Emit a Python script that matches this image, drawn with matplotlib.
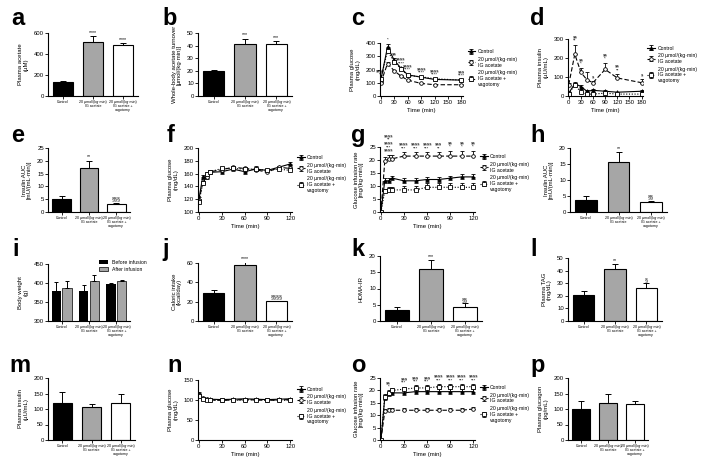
import numpy as np
import matplotlib.pyplot as plt

plt.rcParams['font.family'] = ['Liberation Sans', 'DejaVu Sans']
plt.rcParams['axes.linewidth'] = 0.8

W, H = 710, 471

groups = ['Control', '20 µmol/(kg·min)\nIG acetate', '20 µmol/(kg·min)\nIG acetate +\nvagotomy']
series_names = ['Control', '20 µmol/(kg·min)\nIG acetate', '20 µmol/(kg·min)\nIG acetate +\nvagotomy']

# bar panels: means, errors, significance labels
acetate_mean = [135, 510, 490]
acetate_err = [8, 60, 15]
acetate_sig = ['', '****', '****']

turnover_mean = [19.5, 41.5, 41.5]
turnover_err = [1.5, 4, 2]
turnover_sig = ['', '***', '***']

auc1_mean = [5.2, 17.0, 3.2]
auc1_err = [1.0, 3.0, 0.3]
auc1_sig = ['', '**', '§§§']

auc2_mean = [3.8, 15.5, 3.0]
auc2_err = [1.2, 3.3, 0.5]
auc2_sig = ['', '**', '§§']

bw_before = [380, 380, 398]
bw_before_err = [22, 15, 2]
bw_after = [386, 405, 405]
bw_after_err = [20, 15, 2]

kcal_mean = [29, 58, 21]
kcal_err = [3.5, 3, 0]
kcal_sig = ['', '****', '§§§§']

homa_mean = [3.5, 16.0, 4.2]
homa_err = [0.8, 2.8, 1.2]
homa_sig = ['', '***', '§§']

tag_mean = [20.5, 41.5, 26.0]
tag_err = [3, 3.5, 4]
tag_sig = ['', '**', '§']

ins2_mean = [120, 105, 118]
ins2_err = [35, 10, 30]

glucagon_mean = [100, 120, 115]
glucagon_err = [25, 30, 10]

# time course panels
t_ogtt = [0, 15, 30, 45, 60, 90, 120, 180]
glu_ctrl = [120, 370, 270, 210, 160, 142, 125, 120]
glu_ctrl_err = [10, 25, 15, 10, 8, 8, 6, 6]
glu_ace = [100, 245, 190, 150, 120, 95, 85, 85]
glu_ace_err = [8, 15, 10, 8, 6, 5, 4, 4]
glu_vag = [130, 340, 260, 205, 155, 145, 130, 120]
glu_vag_err = [10, 20, 15, 10, 8, 8, 6, 6]
glu_sig = ['§§§§\n**', '*', '§§', '§§§§\n****', '§§§§\n****', '§§§§\n****', '§§§§\n****', '§§§\n****']

ins_ctrl = [15, 65, 50, 25, 30, 25, 20, 25]
ins_ctrl_err = [5, 8, 6, 4, 5, 4, 3, 4]
ins_ace = [60, 220, 125, 85, 70, 140, 95, 70]
ins_ace_err = [10, 50, 25, 40, 10, 35, 20, 20]
ins_vag = [10, 60, 20, 10, 10, 15, 10, 10]
ins_vag_err = [3, 8, 15, 3, 3, 4, 3, 3]
ins_sig = ['', '§§\n**', '§§\n*', '', '§', '§§\n*', '§§\n**', '§']

t_clamp = [0, 5, 10, 15, 30, 45, 60, 75, 90, 105, 120]
cg_ctrl = [120, 155, 155, 162, 163, 167, 163, 167, 165, 170, 175]
cg_ctrl_err = [3, 3, 3, 2, 2, 2, 2, 5, 2, 2, 3]
cg_ace = [118, 145, 155, 163, 166, 170, 168, 166, 162, 170, 168]
cg_ace_err = [3, 3, 3, 2, 2, 2, 2, 2, 2, 2, 3]
cg_vag = [115, 145, 160, 163, 168, 168, 167, 167, 165, 167, 165]
cg_vag_err = [3, 3, 3, 2, 2, 2, 2, 2, 2, 2, 8]

gir_ctrl = [0, 12, 12, 13, 12, 12, 12.5, 12.5, 13, 13.5, 13.5]
gir_ctrl_err = [0, 1, 1, 1, 1, 1, 1, 1, 1, 1, 1]
gir_ace = [0, 19.5, 20.5, 20.5, 21.5, 21.5, 21.5, 21.5, 21.5, 21.5, 21.5]
gir_ace_err = [0, 1.5, 1.5, 1.5, 1.5, 1.5, 1.5, 1.5, 2, 2, 2]
gir_vag = [0, 8, 8.5, 8.5, 8.5, 8.5, 9.5, 9.5, 9.5, 9.5, 9.5]
gir_vag_err = [0, 1, 1, 1, 1.5, 1.5, 1.5, 1.5, 1.5, 1.5, 1.5]
gir_sig = ['', '', '§§§§\n**\n§§§§\n***\n§§§§', '', '§§§§\n***', '§§§§\n***', '§§§§\n***',
           '§§§\n**', '§§\n*', '§§\n*', '§§\n*']

cg2_ctrl = [115, 105, 103, 102, 101, 102, 103, 102, 101, 102, 103]
cg2_ctrl_err = [5, 3, 3, 3, 3, 3, 3, 3, 3, 3, 3]
cg2_ace = [112, 104, 102, 100, 99, 100, 101, 100, 99, 100, 101]
cg2_ace_err = [5, 3, 3, 3, 3, 3, 3, 3, 3, 3, 3]
cg2_vag = [110, 103, 101, 99, 100, 99, 100, 101, 100, 99, 100]
cg2_vag_err = [5, 3, 3, 3, 3, 3, 3, 3, 3, 3, 3]

gir2_ctrl = [0, 17, 18.5, 19, 19, 19.5, 19.5, 19.5, 19.5, 19.5, 19.5]
gir2_ctrl_err = [0, 1, 1, 1, 1, 1, 1, 1, 1, 1, 1]
gir2_ace = [0, 11.5, 12, 12, 12, 12, 12, 12, 12, 12, 12.5]
gir2_ace_err = [0, 0.8, 0.8, 0.8, 0.8, 0.8, 0.8, 0.8, 0.8, 0.8, 0.8]
gir2_vag = [0, 17.5, 19, 20, 20.5, 21, 21, 21.5, 21.5, 21.5, 21.5]
gir2_vag_err = [0, 1, 1, 1, 1, 1, 1, 1, 1, 1, 1]
gir2_sig = ['', '', '§§\n*', '', '§§§\n***', '§§§\n***', '§§§\n***', '§§§§\n***', '§§§§\n***',
            '§§§§\n***', '§§§§\n***']

bar_colors = ['black', '#a6a6a6', 'white']
FS = 4.3
CAT_FS = 2.6
LEG_FS = 3.7
SIG_FS = 3.2


def make_ax(fig, x0, x1, ytop, ybot):
    ax = fig.add_axes([x0 / W, 1 - ybot / H, (x1 - x0) / W, (ybot - ytop) / H])
    ax.spines['top'].set_visible(False)
    ax.spines['right'].set_visible(False)
    ax.tick_params(labelsize=FS, length=2, width=0.6, pad=1)
    return ax


def letter(fig, x, y, s):
    # y is the baseline in pixels from top
    fig.text(x / W, 1 - y / H, s, fontsize=17, fontweight='bold', va='baseline', ha='left')


def bar_panel(fig, box, means, errs, ylabel, ylim, yticks, sig=None):
    ax = make_ax(fig, *box)
    xs = np.arange(3)
    ax.bar(xs, means, 0.68, color=bar_colors, edgecolor='black', linewidth=0.8,
           yerr=[np.zeros(3), errs], capsize=2,
           error_kw=dict(elinewidth=0.7, capthick=0.7))
    ax.set_xlim(-0.5, 2.5)
    ax.set_ylim(*ylim)
    ax.set_yticks(yticks)
    ax.set_xticks(xs)
    ax.set_xticklabels(groups, fontsize=CAT_FS, linespacing=1.0)
    ax.set_ylabel(ylabel, fontsize=FS, linespacing=1.0)
    if sig:
        span = ylim[1] - ylim[0]
        for x, m, e, s in zip(xs, means, errs, sig):
            if s:
                ax.text(x, m + e + span * 0.02, s, ha='center', va='bottom', fontsize=FS - 0.5)
    return ax


def line_panel(fig, box, t, data, ylabel, ylim, yticks, xticks, sig=None, sig_ref=None):
    ax = make_ax(fig, *box)
    styles = [dict(ls='-', marker='^', mfc='black'),
              dict(ls=(0, (4, 2)), marker='o', mfc='white'),
              dict(ls=(0, (1, 1.5)), marker='s', mfc='white')]
    for (y, e), st, name in zip(data, styles, series_names):
        ax.errorbar(t, y, yerr=[np.zeros(len(e)), e], ls=st['ls'], marker=st['marker'],
                    mfc=st['mfc'], mec='black', color='black', ms=2.6, lw=0.8,
                    mew=0.6, capsize=1.5, elinewidth=0.6, capthick=0.6, label=name)
    ax.set_ylim(*ylim)
    ax.set_yticks(yticks)
    ax.set_xticks(xticks)
    ax.set_xlim(xticks[0] - (xticks[-1] - xticks[0]) * 0.01, xticks[-1] + (xticks[-1] - xticks[0]) * 0.02)
    ax.set_ylabel(ylabel, fontsize=FS, linespacing=1.0)
    ax.set_xlabel('Time (min)', fontsize=FS, labelpad=2)
    ax.legend(loc='upper left', bbox_to_anchor=(1.03, 0.92), fontsize=LEG_FS, frameon=False,
              handlelength=1.5, labelspacing=0.5, borderaxespad=0, handletextpad=0.5)
    if sig:
        y, e = sig_ref
        span = ylim[1] - ylim[0]
        for x, v, ee, s in zip(t, y, e, sig):
            if s:
                ax.text(x, v + ee + span * 0.03, s, ha='center', va='bottom', fontsize=SIG_FS,
                        linespacing=0.85)
    return ax


fig = plt.figure(figsize=(W / 100, H / 100), dpi=100)

# row 1
letter(fig, 11, 25, 'a')
bar_panel(fig, (48, 138, 33, 96), acetate_mean, acetate_err, 'Plasma acetate\n(µM)',
          (0, 600), [0, 200, 400, 600], acetate_sig)
letter(fig, 162, 25, 'b')
bar_panel(fig, (198, 292, 33, 96), turnover_mean, turnover_err,
          'Whole-body acetate turnover\n[µmol/(kg·min)]', (0, 50), [0, 10, 20, 30, 40, 50], turnover_sig)
letter(fig, 351, 25, 'c')
line_panel(fig, (380, 463, 43, 96), t_ogtt,
           [(glu_ctrl, glu_ctrl_err), (glu_ace, glu_ace_err), (glu_vag, glu_vag_err)],
           'Plasma glucose\n(mg/dL)', (0, 400), [0, 100, 200, 300, 400], [0, 30, 60, 90, 120, 150, 180],
           glu_sig, (glu_ctrl, glu_ctrl_err))
letter(fig, 530, 25, 'd')
line_panel(fig, (568, 643, 39, 96), t_ogtt,
           [(ins_ctrl, ins_ctrl_err), (ins_ace, ins_ace_err), (ins_vag, ins_vag_err)],
           'Plasma insulin\n(µU/mL)', (0, 300), [0, 100, 200, 300], [0, 30, 60, 90, 120, 150, 180],
           ins_sig, (ins_ace, ins_ace_err))

# row 2
letter(fig, 11, 142, 'e')
bar_panel(fig, (48, 130, 148, 212), auc1_mean, auc1_err, 'Insulin AUC\n[mU/(mL·min)]',
          (0, 25), [0, 5, 10, 15, 20, 25], auc1_sig)
letter(fig, 167, 142, 'f')
line_panel(fig, (198, 292, 148, 212), t_clamp,
           [(cg_ctrl, cg_ctrl_err), (cg_ace, cg_ace_err), (cg_vag, cg_vag_err)],
           'Plasma glucose\n(mg/dL)', (100, 200), [100, 120, 140, 160, 180, 200], [0, 30, 60, 90, 120])
letter(fig, 351, 142, 'g')
line_panel(fig, (380, 475, 147, 212), t_clamp,
           [(gir_ctrl, gir_ctrl_err), (gir_ace, gir_ace_err), (gir_vag, gir_vag_err)],
           'Glucose infusion rate\n[mg/(kg·min)]', (0, 25), [0, 5, 10, 15, 20, 25], [0, 30, 60, 90, 120],
           gir_sig, (gir_ace, gir_ace_err))
letter(fig, 530, 142, 'h')
bar_panel(fig, (570, 667, 148, 212), auc2_mean, auc2_err, 'Insulin AUC\n[mU/(mL·min)]',
          (0, 20), [0, 5, 10, 15, 20], auc2_sig)

# row 3
letter(fig, 12, 256, 'i')
ax = make_ax(fig, 48, 130, 264, 321)
xs = np.arange(3)
ax.bar(xs - 0.19, bw_before, 0.34, color='black', yerr=[np.zeros(3), bw_before_err], capsize=1.5,
       error_kw=dict(elinewidth=0.7, capthick=0.7), label='Before infusion')
ax.bar(xs + 0.19, bw_after, 0.34, color='#a6a6a6', edgecolor='black', linewidth=0.5,
       yerr=[np.zeros(3), bw_after_err], capsize=1.5,
       error_kw=dict(elinewidth=0.7, capthick=0.7), label='After infusion')
ax.set_ylim(300, 450)
ax.set_yticks([300, 350, 400, 450])
ax.set_xlim(-0.5, 2.5)
ax.set_xticks(xs)
ax.set_xticklabels(groups, fontsize=CAT_FS, linespacing=1.0)
ax.set_ylabel('Body weight\n(g)', fontsize=FS, linespacing=1.0)
ax.legend(loc='upper right', bbox_to_anchor=(1.26, 1.15), fontsize=LEG_FS, frameon=False,
          handlelength=1.8, handleheight=0.9, labelspacing=0.4)
letter(fig, 162, 256, 'j')
bar_panel(fig, (198, 292, 263, 321), kcal_mean, kcal_err, 'Caloric intake\n(kcal/day)',
          (0, 60), [0, 20, 40, 60], kcal_sig)
letter(fig, 351, 256, 'k')
bar_panel(fig, (380, 482, 256, 321), homa_mean, homa_err, 'HOMA-IR',
          (0, 20), [0, 5, 10, 15, 20], homa_sig)
letter(fig, 530, 256, 'l')
bar_panel(fig, (568, 662, 258, 321), tag_mean, tag_err, 'Plasma TAG\n(mg/dL)',
          (0, 50), [0, 10, 20, 30, 40, 50], tag_sig)

# row 4
letter(fig, 9, 372, 'm')
bar_panel(fig, (48, 135, 378, 440), ins2_mean, ins2_err, 'Plasma insulin\n(µU/mL)',
          (0, 200), [0, 50, 100, 150, 200])
letter(fig, 167, 372, 'n')
line_panel(fig, (198, 292, 380, 440), t_clamp,
           [(cg2_ctrl, cg2_ctrl_err), (cg2_ace, cg2_ace_err), (cg2_vag, cg2_vag_err)],
           'Plasma glucose\n(mg/dL)', (0, 150), [0, 50, 100, 150], [0, 30, 60, 90, 120])
letter(fig, 351, 372, 'o')
line_panel(fig, (380, 475, 378, 440), t_clamp,
           [(gir2_ctrl, gir2_ctrl_err), (gir2_ace, gir2_ace_err), (gir2_vag, gir2_vag_err)],
           'Glucose infusion rate\n[mg/(kg·min)]', (0, 25), [0, 5, 10, 15, 20, 25], [0, 30, 60, 90, 120],
           gir2_sig, (gir2_vag, gir2_vag_err))
letter(fig, 530, 372, 'p')
bar_panel(fig, (568, 648, 378, 440), glucagon_mean, glucagon_err, 'Plasma glucagon\n(pg/mL)',
          (0, 200), [0, 50, 100, 150, 200])

fig.savefig('out.png', dpi=100)
